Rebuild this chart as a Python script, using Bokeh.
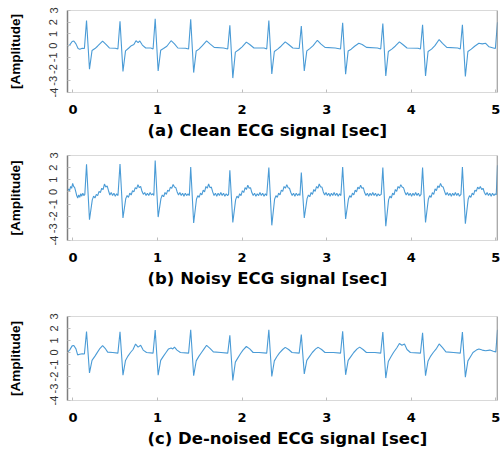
from bokeh.plotting import figure
from bokeh.layouts import column
from bokeh.models import FixedTicker, Range1d, Title, Span
from bokeh.embed import file_html
from bokeh.resources import INLINE

# ---------------- data ----------------
x_ticks = [0, 1, 2, 3, 4, 5]
y_ticks = [-4, -3, -2, -1, 0, 1, 2, 3]
y_tick_labels = ["-4", "-3", "-2", "-1", "0", "1", "2", "3"]
titles = ["(a) Clean ECG signal [sec]", "(b) Noisy ECG signal [sec]", "(c) De-noised ECG signal [sec]"]
y_label = "[Amplitude]"

time_clean = [-0.065, -0.04, -0.01, 0.01, 0.035, 0.06, 0.08, 0.11, 0.135,
              0.160, 0.195, 0.225, 0.26, 0.29, 0.35, 0.39, 0.43, 0.50, 0.531,
              0.556, 0.591, 0.621, 0.66, 0.69, 0.72, 0.745, 0.77, 0.79, 0.82, 0.86, 0.92, 0.947,
              0.972, 1.007, 1.037, 1.07, 1.11, 1.16, 1.2, 1.24, 1.33, 1.367,
              1.392, 1.427, 1.457, 1.49, 1.53, 1.58, 1.62, 1.67, 1.78, 1.83,
              1.855, 1.89, 1.92, 1.96, 2.0, 2.05, 2.09, 2.14, 2.26, 2.291,
              2.316, 2.351, 2.381, 2.42, 2.46, 2.51, 2.55, 2.6, 2.675,
              2.700, 2.735, 2.765, 2.8, 2.84, 2.89, 2.93, 2.98, 3.1, 3.164,
              3.189, 3.224, 3.254, 3.29, 3.33, 3.38, 3.42, 3.47, 3.6, 3.639,
              3.664, 3.699, 3.729, 3.77, 3.81, 3.86, 3.9, 3.95, 4.08, 4.109,
              4.134, 4.169, 4.199, 4.24, 4.28, 4.33, 4.37, 4.42, 4.55, 4.58,
              4.605, 4.64, 4.67, 4.71, 4.75, 4.80, 4.84, 4.88, 4.92, 4.97, 4.995,
              5.02]
amp_clean = [-0.05, 0.05, 0.35, 0.40, 0.15, -0.25, -0.30, -0.22, -0.25,
             2.15, -2.01, -0.42, -0.25, -0.05, 0.38, 0.10, -0.20, -0.22, -0.28,
             2.07, -2.21, -0.45, -0.20, 0.00, 0.10, 0.42, 0.25, 0.40, 0.05, -0.20, -0.20, -0.28,
             2.30, -2.16, -0.40, -0.25, -0.05, 0.42, 0.15, -0.20, -0.22, -0.28,
             2.24, -2.30, -0.45, -0.30, 0.00, 0.40, 0.15, -0.15, -0.20, -0.28,
             1.73, -2.77, -0.55, -0.35, -0.10, 0.30, 0.10, -0.20, -0.20, -0.28,
             2.15, -2.41, -0.50, -0.30, -0.05, 0.32, 0.10, -0.20, -0.25,
             1.67, -2.16, -0.45, -0.25, 0.00, 0.46, 0.15, -0.15, -0.20, -0.28,
             1.96, -2.43, -0.45, -0.30, -0.05, 0.20, 0.10, -0.15, -0.20, -0.28,
             1.88, -2.58, -0.50, -0.30, -0.05, 0.32, 0.10, -0.20, -0.22, -0.28,
             1.79, -2.58, -0.50, -0.30, 0.00, 0.52, 0.20, -0.15, -0.20, -0.28,
             1.79, -2.64, -0.50, -0.30, -0.05, 0.20, 0.15, 0.20, -0.10, -0.20, -0.25,
             2.00]

time_noisy = [-0.065, -0.052, -0.040, -0.028, -0.016, -0.004, 0.008, 0.020, 0.032, 0.044, 0.056, 0.068, 0.080, 0.092, 0.104, 0.116, 0.128, 0.140,
              0.160, 0.195, 0.228, 0.244, 0.260, 0.276, 0.292, 0.308, 0.324, 0.340, 0.356, 0.372, 0.388, 0.404, 0.420, 0.436, 0.452, 0.468, 0.484, 0.500, 0.516, 0.532,
              0.556, 0.591, 0.624, 0.640, 0.656, 0.672, 0.688, 0.704, 0.720, 0.736, 0.752, 0.768, 0.784, 0.800, 0.816, 0.832, 0.848, 0.864, 0.880, 0.896, 0.912, 0.928, 0.944, 0.956,
              0.972, 1.007, 1.040, 1.056, 1.072, 1.088, 1.104, 1.120, 1.136, 1.152, 1.168, 1.184, 1.200, 1.216, 1.232, 1.248, 1.264, 1.280, 1.296, 1.312, 1.328, 1.344, 1.360, 1.376,
              1.392, 1.427, 1.460, 1.476, 1.492, 1.508, 1.524, 1.540, 1.556, 1.572, 1.588, 1.604, 1.620, 1.636, 1.652, 1.668, 1.684, 1.700, 1.716, 1.732, 1.748, 1.764, 1.780, 1.796, 1.812, 1.828, 1.840,
              1.855, 1.890, 1.923, 1.939, 1.955, 1.971, 1.987, 2.003, 2.019, 2.035, 2.051, 2.067, 2.083, 2.099, 2.115, 2.131, 2.147, 2.163, 2.179, 2.195, 2.211, 2.227, 2.243, 2.259, 2.275, 2.291,
              2.316, 2.351, 2.384, 2.400, 2.416, 2.432, 2.448, 2.464, 2.480, 2.496, 2.512, 2.528, 2.544, 2.560, 2.576, 2.592, 2.608, 2.624, 2.640, 2.656, 2.672, 2.684,
              2.700, 2.735, 2.768, 2.784, 2.800, 2.816, 2.832, 2.848, 2.864, 2.880, 2.896, 2.912, 2.928, 2.944, 2.960, 2.976, 2.992, 3.008, 3.024, 3.040, 3.056, 3.072, 3.088, 3.104, 3.120, 3.136, 3.152, 3.168,
              3.189, 3.224, 3.257, 3.273, 3.289, 3.305, 3.321, 3.337, 3.353, 3.369, 3.385, 3.401, 3.417, 3.433, 3.449, 3.465, 3.481, 3.497, 3.513, 3.529, 3.545, 3.561, 3.577, 3.593, 3.609, 3.625, 3.645,
              3.664, 3.699, 3.732, 3.748, 3.764, 3.780, 3.796, 3.812, 3.828, 3.844, 3.860, 3.876, 3.892, 3.908, 3.924, 3.940, 3.956, 3.972, 3.988, 4.004, 4.020, 4.036, 4.052, 4.068, 4.084, 4.100, 4.116,
              4.134, 4.169, 4.202, 4.218, 4.234, 4.250, 4.266, 4.282, 4.298, 4.314, 4.330, 4.346, 4.362, 4.378, 4.394, 4.410, 4.426, 4.442, 4.458, 4.474, 4.490, 4.506, 4.522, 4.538, 4.554, 4.570, 4.588,
              4.605, 4.640, 4.673, 4.689, 4.705, 4.721, 4.737, 4.753, 4.769, 4.785, 4.801, 4.817, 4.833, 4.849, 4.865, 4.881, 4.897, 4.913, 4.929, 4.945, 4.961, 4.977, 4.993, 5.005, 5.020]
amp_noisy = [0.05, 0.25, 0.10, 0.45, 0.30, 0.70, 0.45, 0.35, 0.05, -0.30, -0.50, -0.25, -0.45, -0.15, -0.35, -0.10, -0.30, -0.20,
             2.27, -2.29, -0.65, -0.35, -0.50, -0.20, -0.30, 0.05, -0.05, 0.30, 0.20, 0.65, 0.40, 0.50, 0.10, -0.25, -0.05, -0.30, -0.10, -0.35, -0.15, -0.30,
             2.30, -2.15, -0.55, -0.30, -0.45, -0.10, -0.25, 0.10, 0.00, 0.35, 0.25, 0.60, 0.35, 0.45, 0.05, -0.20, -0.05, -0.30, -0.10, -0.30, -0.05, -0.25, -0.15, -0.30,
             2.59, -2.07, -0.55, -0.25, -0.40, -0.05, -0.20, 0.15, 0.05, 0.40, 0.30, 0.62, 0.40, 0.35, 0.00, -0.25, -0.05, -0.30, -0.10, -0.35, -0.10, -0.30, -0.15, -0.30,
             2.05, -2.56, -0.60, -0.30, -0.45, -0.10, -0.25, 0.15, 0.00, 0.45, 0.30, 0.65, 0.35, 0.40, 0.00, -0.30, -0.10, -0.35, -0.10, -0.30, -0.05, -0.30, -0.10, -0.35, -0.15, -0.30, -0.20,
             1.78, -2.51, -0.65, -0.35, -0.50, -0.15, -0.30, 0.10, -0.05, 0.35, 0.20, 0.55, 0.30, 0.35, -0.05, -0.30, -0.10, -0.35, -0.15, -0.30, -0.05, -0.30, -0.10, -0.35, -0.15, -0.30,
             2.00, -2.75, -0.60, -0.30, -0.45, -0.10, -0.25, 0.15, 0.05, 0.45, 0.30, 0.60, 0.35, 0.30, -0.05, -0.30, -0.10, -0.35, -0.10, -0.30, -0.15, -0.30,
             1.59, -2.15, -0.55, -0.25, -0.40, -0.05, -0.20, 0.20, 0.05, 0.45, 0.30, 0.65, 0.40, 0.40, 0.00, -0.25, -0.05, -0.30, -0.10, -0.35, -0.10, -0.30, -0.05, -0.30, -0.10, -0.35, -0.15, -0.30,
             2.05, -2.23, -0.60, -0.30, -0.45, -0.10, -0.25, 0.15, 0.00, 0.40, 0.25, 0.55, 0.30, 0.35, -0.05, -0.30, -0.10, -0.35, -0.10, -0.30, -0.05, -0.30, -0.10, -0.35, -0.15, -0.30, -0.20,
             2.00, -2.83, -0.65, -0.35, -0.50, -0.10, -0.25, 0.20, 0.05, 0.45, 0.30, 0.60, 0.40, 0.35, 0.00, -0.25, -0.05, -0.30, -0.10, -0.35, -0.10, -0.30, -0.05, -0.30, -0.10, -0.35, -0.20,
             2.00, -2.51, -0.60, -0.30, -0.45, -0.05, -0.20, 0.25, 0.10, 0.50, 0.35, 0.70, 0.45, 0.40, 0.05, -0.25, -0.05, -0.30, -0.10, -0.35, -0.10, -0.30, -0.05, -0.30, -0.10, -0.35, -0.20,
             2.05, -2.61, -0.60, -0.30, -0.45, -0.10, -0.25, 0.15, 0.05, 0.40, 0.25, 0.45, 0.20, 0.30, -0.05, -0.25, -0.05, -0.30, -0.10, -0.35, -0.10, -0.30, -0.15, -0.25, 2.19]

time_denoised = [-0.065, -0.04, -0.01, 0.01, 0.035, 0.055, 0.08, 0.11, 0.135,
                 0.160, 0.195, 0.225, 0.26, 0.29, 0.32, 0.35, 0.38, 0.41, 0.47, 0.531,
                 0.556, 0.591, 0.621, 0.65, 0.68, 0.71, 0.74, 0.77, 0.80, 0.83, 0.87, 0.947,
                 0.972, 1.007, 1.037, 1.07, 1.10, 1.13, 1.16, 1.18, 1.20, 1.23, 1.27, 1.367,
                 1.392, 1.427, 1.457, 1.49, 1.52, 1.55, 1.58, 1.62, 1.66, 1.75, 1.83,
                 1.855, 1.89, 1.92, 1.95, 1.98, 2.01, 2.05, 2.09, 2.13, 2.20, 2.291,
                 2.316, 2.351, 2.381, 2.41, 2.44, 2.48, 2.51, 2.55, 2.59, 2.675,
                 2.700, 2.735, 2.765, 2.80, 2.83, 2.87, 2.90, 2.94, 2.98, 3.08, 3.164,
                 3.189, 3.224, 3.254, 3.29, 3.32, 3.36, 3.39, 3.43, 3.47, 3.57, 3.639,
                 3.664, 3.699, 3.729, 3.76, 3.79, 3.83, 3.86, 3.89, 3.92, 3.95, 3.99, 4.109,
                 4.134, 4.169, 4.199, 4.23, 4.26, 4.30, 4.33, 4.37, 4.41, 4.50, 4.58,
                 4.605, 4.64, 4.67, 4.70, 4.73, 4.77, 4.80, 4.84, 4.88, 4.93, 4.97, 5.00, 5.02]
amp_denoised = [0.03, 0.20, 0.55, 0.58, 0.30, -0.20, -0.15, -0.10, -0.12,
                1.75, -1.70, -0.66, -0.30, 0.03, 0.35, 0.57, 0.35, 0.03, 0.00, -0.05,
                1.72, -1.89, -0.66, -0.30, 0.00, 0.25, 0.70, 0.45, 0.60, 0.20, 0.00, -0.05,
                1.88, -1.89, -0.66, -0.30, 0.00, 0.30, 0.38, 0.30, 0.45, 0.20, 0.00, -0.05,
                1.90, -1.94, -0.70, -0.30, 0.00, 0.30, 0.60, 0.35, 0.05, 0.00, -0.05,
                1.43, -2.33, -0.80, -0.45, -0.10, 0.20, 0.50, 0.30, 0.00, 0.00, -0.05,
                1.90, -2.00, -0.70, -0.35, -0.05, 0.25, 0.43, 0.25, 0.00, -0.05,
                1.49, -1.78, -0.66, -0.30, 0.00, 0.30, 0.43, 0.25, 0.00, 0.00, -0.05,
                1.76, -1.86, -0.66, -0.30, 0.00, 0.30, 0.45, 0.25, 0.00, 0.00, -0.05,
                1.70, -2.13, -0.75, -0.35, 0.00, 0.40, 0.75, 0.60, 0.70, 0.25, 0.00, -0.05,
                1.65, -1.94, -0.70, -0.30, 0.00, 0.35, 0.71, 0.40, 0.05, 0.00, -0.05,
                1.70, -2.05, -0.70, -0.35, 0.00, 0.20, 0.30, 0.20, 0.15, 0.20, 0.10, 0.05, 1.90]

LINE_COLOR = "#4a9bd6"
BOLD_FONT = "DejaVu Sans"
PLAIN_FONT = "Liberation Sans"


def make_panel(t, v, label, height, top, bottom):
    p = figure(width=501, height=height, output_backend="svg", toolbar_location=None,
               x_range=Range1d(-0.065, 5.02), y_range=Range1d(-4, 3),
               min_border_left=67, min_border_right=4,
               min_border_top=top, min_border_bottom=bottom)
    p.line(t, v, line_color=LINE_COLOR, line_width=1.1)
    p.xgrid.visible = False
    p.ygrid.visible = False
    p.outline_line_color = "#d9d9d9"
    p.background_fill_color = "white"
    p.border_fill_color = "white"

    xa = p.xaxis[0]
    xa.ticker = FixedTicker(ticks=x_ticks)
    xa.minor_tick_line_color = None
    xa.major_tick_in = 3
    xa.major_tick_out = 0
    xa.major_tick_line_color = "#bdbdbd"
    xa.axis_line_color = "#d9d9d9"
    xa.major_label_text_font = BOLD_FONT
    xa.major_label_text_font_style = "bold"
    xa.major_label_text_font_size = "13px"
    xa.major_label_text_color = "black"
    xa.major_label_standoff = 12

    ya = p.yaxis[0]
    ya.ticker = FixedTicker(ticks=y_ticks)
    ya.major_label_overrides = {tk: lb for tk, lb in zip(y_ticks, y_tick_labels)}
    ya.major_label_orientation = "vertical"
    ya.minor_tick_line_color = None
    ya.major_tick_in = 3
    ya.major_tick_out = 0
    ya.major_tick_line_color = "#bdbdbd"
    ya.axis_line_color = "#7f7f7f"
    ya.axis_line_width = 1.5
    ya.major_label_text_font = PLAIN_FONT
    ya.major_label_text_font_size = "11px"
    ya.major_label_text_color = "#333333"
    ya.major_label_standoff = 10
    ya.axis_label = y_label
    ya.axis_label_text_font = PLAIN_FONT
    ya.axis_label_text_font_style = "bold"
    ya.axis_label_text_font_size = "13.5px"
    ya.axis_label_text_color = "black"
    ya.axis_label_standoff = 24

    p.add_layout(Span(location=5.02, dimension="height", line_color="#7f7f7f", line_width=1.5))

    ttl = Title(text=label, align="left", offset=80, standoff=5,
                text_font=BOLD_FONT, text_font_style="bold", text_font_size="16.5px",
                text_color="black")
    p.add_layout(ttl, "below")
    return p


p1 = make_panel(time_clean, amp_clean, titles[0], 148, 10, 56)
p2 = make_panel(time_noisy, amp_noisy, titles[1], 148, 7, 56)
p3 = make_panel(time_denoised, amp_denoised, titles[2], 158, 20, 54)

layout = column(p1, p2, p3, spacing=0)
open("out.html", "w").write(file_html(layout, INLINE))
